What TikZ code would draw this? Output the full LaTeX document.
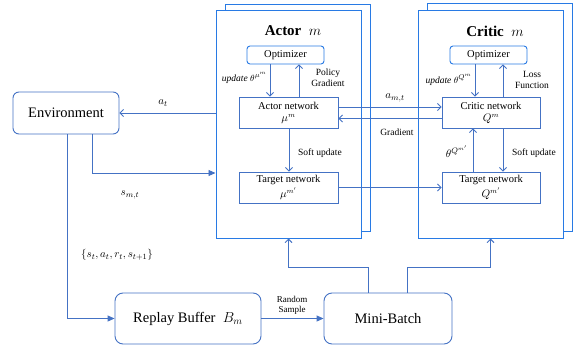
\documentclass[tikz,border=0pt]{standalone}
\usepackage{fontspec}
\setmainfont{Liberation Serif}
\usetikzlibrary{arrows.meta}
\definecolor{lineblue}{RGB}{68,114,196}
\definecolor{frameblue}{RGB}{40,122,228}

\begin{document}
\begin{tikzpicture}[x=1pt, y=-1pt,
	frame/.style={draw=frameblue, line width=1pt, fill=white, minimum width=145pt, minimum height=227pt, inner sep=0pt},
	netbox/.style={draw=lineblue, line width=0.9pt, fill=white, minimum width=99pt, minimum height=31pt, inner sep=0pt, align=center, font=\rmfamily\fontsize{10.5}{11}\selectfont},
	optbox/.style={draw=frameblue, line width=0.9pt, rounded corners=3pt, minimum width=77pt, minimum height=18pt, inner sep=0pt, font=\rmfamily\fontsize{10.5}{11.5}\selectfont},
	bigbox/.style={draw=lineblue, line width=0.9pt, rounded corners=8pt, minimum height=51pt, inner sep=0pt, font=\rmfamily\fontsize{14.5}{16}\selectfont},
	title/.style={font=\rmfamily\fontsize{15}{17}\selectfont},
	lbl/.style={font=\rmfamily\fontsize{9.5}{10.5}\selectfont, align=center, inner sep=1pt},
	mlbl/.style={font=\fontsize{11}{12}\selectfont, inner sep=1pt},
	conn/.style={draw=lineblue, line width=0.9pt},
	open/.style={conn, -{Straight Barb[length=3.5pt,width=7pt]}},
	filled/.style={conn, -{Triangle[length=7pt,width=6pt]}}]
	\useasboundingbox (0,0) rectangle (573,350);

	\node[frame] (actorB) at (297.5,118) {};
	\node[frame] (actorF) at (288.5,124.5) {};
	\node[frame] (criticB) at (499.5,117.5) {};
	\node[frame] (criticF) at (490.5,124.5) {};

	\node[title] (actorT) at (293,31) {\textbf{Actor}\ \ $m$};
	\node[optbox] (aOpt) at (285.5,55) {Optimizer};
	\node[netbox] (aNet) at (288.5,112.5) {Actor network\\[1pt]$\mu^{m}$};
	\node[netbox] (aTgt) at (288.5,187.5) {Target network\\[1.5pt]$\mu^{m'}$};

	\node[title] (criticT) at (495,31) {\textbf{Critic}\ \ $m$};
	\node[optbox] (cOpt) at (488.5,55) {Optimizer};
	\node[netbox, minimum width=98pt] (cNet) at (491,112.5) {Critic network\\[1pt]$Q^{m}$};
	\node[netbox, minimum width=98pt] (cTgt) at (491,187.5) {Target network\\[1.5pt]$Q^{m'}$};

	\node[bigbox, minimum width=106pt, minimum height=42pt, rounded corners=6pt] (env) at (66,113) {Environment};
	\node[bigbox, minimum width=146pt] (buffer) at (188,318.5) {Replay Buffer\ \ $B_m$};
	\node[bigbox, minimum width=128pt] (batch) at (388,318.5) {Mini-Batch};

	\draw[open] (aOpt.south -| 270,0) -- (aNet.north -| 270,0);
	\draw[open] (aNet.north -| 299,0) -- (aOpt.south -| 299,0);
	\node[lbl, anchor=east] (aUpd) at (268,78) {\itshape update $\theta^{\mu^{m}}$};
	\node[lbl] (aPol) at (328,78) {Policy\\Gradient};
	\draw[open] (aNet.south -| 289,0) -- (aTgt.north -| 289,0);
	\node[lbl, anchor=west] (aSoft) at (297,153) {Soft update};

	\draw[open] (cOpt.south -| 475,0) -- (cNet.north -| 475,0);
	\draw[open] (cNet.north -| 503,0) -- (cOpt.south -| 503,0);
	\node[lbl, anchor=east] (cUpd) at (473,80) {\itshape update $\theta^{Q^{m}}$};
	\node[lbl] (cLoss) at (532,80) {Loss\\Function};
	\draw[open] (cTgt.north -| 473,0) -- (cNet.south -| 473,0);
	\node[mlbl, anchor=east] (cTheta) at (469,152) {$\theta^{Q^{m'}}$};
	\draw[open] (cNet.south -| 503,0) -- (cTgt.north -| 503,0);
	\node[lbl, anchor=west] (cSoft) at (511,153) {Soft update};

	\draw[open] ([yshift=5.5pt]aNet.east) -- ([yshift=5.5pt]cNet.west);
	\node[mlbl] (amt) at (395,98) {$a_{m,t}$};
	\draw[open] ([yshift=-6pt]cNet.west) -- ([yshift=-6pt]aNet.east);
	\node[lbl] (grad) at (397,132) {Gradient};
	\draw[open] (aTgt.east) -- (cTgt.west);

	\draw[open] (env.east -| actorF.west) -- (env.east);
	\node[mlbl] (at) at (163,103) {$a_t$};
	\draw[filled] ([xshift=26pt]env.south) |- (actorF.west |- 0,173);
	\node[mlbl] (smt) at (130,195) {$s_{m,t}$};
	\draw[filled] ([xshift=1pt]env.south) |- (buffer.west);
	\node[mlbl] (tuple) at (117,255) {$\{s_t,a_t,r_t,s_{t+1}\}$};
	\draw[filled] (buffer.east) -- (batch.west);
	\node[lbl, font=\rmfamily\fontsize{9}{10}\selectfont] (rnd) at (292,305) {Random\\Sample};

	\draw[open] ([xshift=-20pt]batch.north) |- ([yshift=-29pt]actorF.south) -- (actorF.south);
	\draw[open] ([xshift=19pt]batch.north) |- ([yshift=-29pt]criticF.south) -- (criticF.south);
\end{tikzpicture}
\end{document}
